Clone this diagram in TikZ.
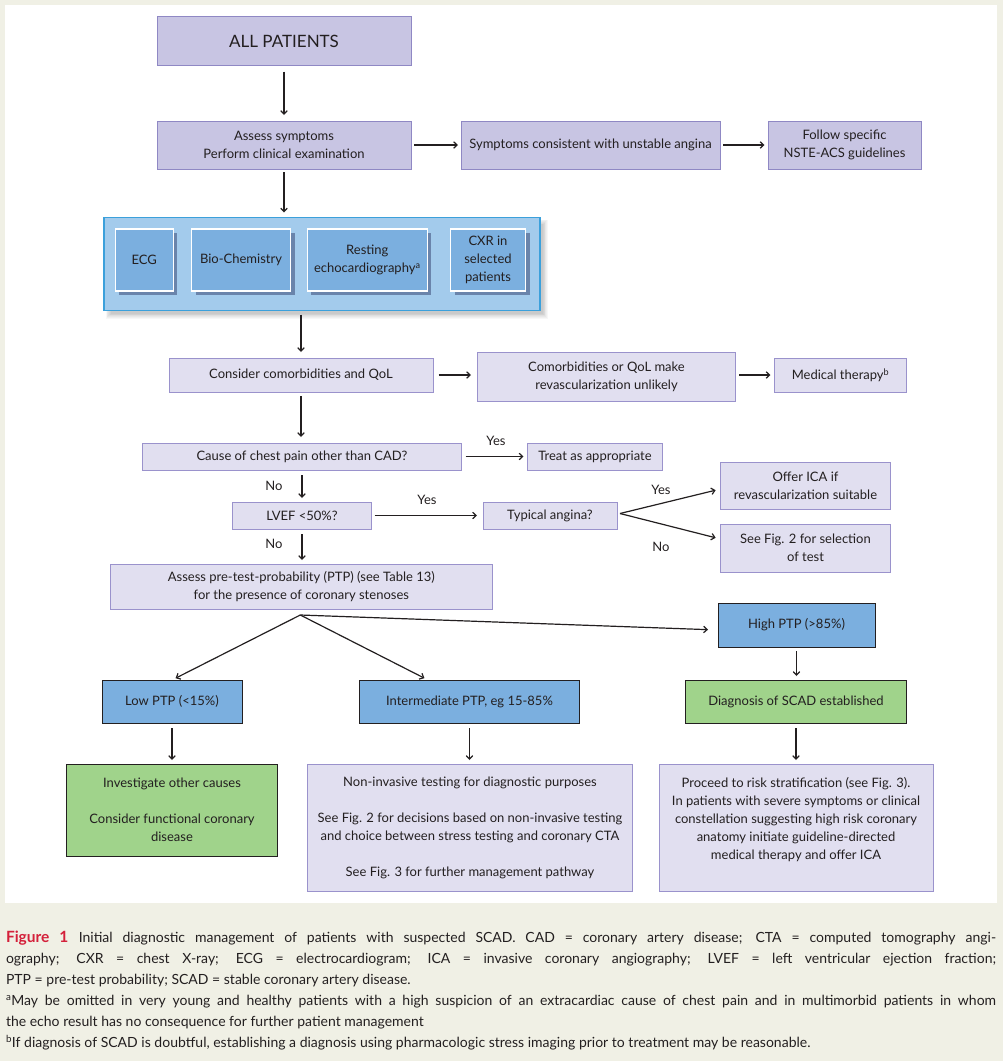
\documentclass[tikz,border=0pt]{standalone}
\usepackage{fontspec}
\setmainfont{Lato}
\usetikzlibrary{arrows.meta,shadows,calc}
\definecolor{bgcream}{HTML}{F0F0E5}
\definecolor{lavA}{HTML}{C8C5E3}
\definecolor{lavAd}{HTML}{8F88C4}
\definecolor{lavB}{HTML}{E1DFF0}
\definecolor{lavBd}{HTML}{9A92CC}
\definecolor{outerfill}{HTML}{A3CBEC}
\definecolor{outerdraw}{HTML}{3BA0DB}
\definecolor{bluefill}{HTML}{7BAFDF}
\definecolor{greenfill}{HTML}{A0D38B}
\definecolor{figred}{HTML}{D4203A}
\definecolor{txt}{HTML}{231F20}
\newcommand{\capline}[1]{\hbox to 990pt{#1}}
\newcommand{\capend}[1]{\hbox to 990pt{#1\hfil}}
\newcommand{\capspacing}{\spaceskip=3.6pt plus 40pt minus 1.2pt\relax}
\begin{document}
\begin{tikzpicture}[x=1pt,y=-1pt,
  every node/.style={text=txt, inner sep=0pt, outer sep=0pt, align=center,
    font=\fontsize{13}{18}\selectfont},
  lavtop/.style={draw=lavAd, fill=lavA, line width=0.8pt},
  lavbox/.style={draw=lavBd, fill=lavB, line width=0.8pt},
  outerbox/.style={draw=outerdraw, fill=outerfill, line width=1.6pt},
  innerbox/.style={draw=white, fill=bluefill, line width=1.2pt,
    drop shadow={shadow xshift=4pt, shadow yshift=-4pt, fill=black!80!blue, opacity=0.35}},
  bluebox/.style={draw=txt, fill=bluefill, line width=0.9pt},
  greenbox/.style={draw=txt, fill=greenfill, line width=0.9pt},
  lbl/.style={font=\fontsize{13}{16}\selectfont},
  arr/.style={draw=txt, line width=1.2pt, -{Straight Barb[length=3.5pt,width=6.5pt]}}
]
\useasboundingbox (0,0) rectangle (1003,1061);
\fill[bgcream] (0,0) rectangle (1003,1061);
\fill[white] (5,5) rectangle (997,903);

% top rows
\node[lavtop, minimum width=254pt, minimum height=49pt] (all) at (284,41)
  {\fontsize{17}{20}\selectfont ALL PATIENTS};
\node[lavtop, minimum width=254pt, minimum height=48pt] (assess) at (284,145)
  {Assess symptoms\\Perform clinical examination};
\node[lavtop, minimum width=259pt, minimum height=48pt] (sympt) at (590.5,145)
  {Symptoms consistent with unstable angina};
\node[lavtop, minimum width=153pt, minimum height=48pt] (follow) at (844.5,145)
  {Follow specific\\NSTE-ACS guidelines};

% soft shadow of the blue group
\foreach \k in {0,...,6}{
  \fill[black, opacity=0.03] (103.8+5-3+\k*0.8, 217.5+5-3+\k*0.8) rectangle (539.8+5+3-\k*0.8, 310.5+5+3-\k*0.8);
}
% blue group
\node[outerbox, minimum width=436pt, minimum height=93pt] (outer) at (321.8,264) {};
\node[innerbox, minimum width=58pt, minimum height=62pt] (ecg) at (144.3,260) {ECG};
\node[innerbox, minimum width=99pt, minimum height=62pt] (bio) at (241,260) {Bio-Chemistry};
\node[innerbox, minimum width=120pt, minimum height=62pt] (echo) at (367.3,260)
  {Resting\\echocardiography\textsuperscript{a}};
\node[innerbox, minimum width=75pt, minimum height=62pt] (cxr) at (488,260)
  {CXR in\\selected\\patients};

% comorbidities row
\node[lavbox, minimum width=264pt, minimum height=34pt] (cons) at (301,375)
  {Consider comorbidities and QoL};
\node[lavbox, minimum width=258pt, minimum height=49pt] (comorb) at (606.5,377)
  {Comorbidities or QoL make\\revascularization unlikely};
\node[lavbox, minimum width=132pt, minimum height=34pt] (med) at (840.5,375)
  {Medical therapy\textsuperscript{b}};

% cause row
\node[lavbox, minimum width=319pt, minimum height=27pt] (cause) at (302,456.5)
  {Cause of chest pain other than CAD?};
\node[lavbox, minimum width=135pt, minimum height=27pt] (treat) at (595,456.5)
  {Treat as appropriate};

% lvef row
\node[lavbox, minimum width=139pt, minimum height=27pt] (lvef) at (302,515.5) {LVEF <50\%?};
\node[lavbox, minimum width=134pt, minimum height=27pt] (typ) at (550,515.5) {Typical angina?};
\node[lavbox, minimum width=170pt, minimum height=47pt] (offer) at (805.5,485.5)
  {Offer ICA if\\revascularization suitable};
\node[lavbox, minimum width=170pt, minimum height=48pt] (seefig) at (805.5,548)
  {See Fig. 2 for selection\\of test};

% PTP
\node[lavbox, minimum width=382pt, minimum height=45pt] (ptp) at (301.3,586.5)
  {Assess pre-test-probability (PTP) (see Table 13)\\for the presence of coronary stenoses};

\node[bluebox, minimum width=157pt, minimum height=44pt] (high) at (796.5,625) {High PTP (>85\%)};
\node[bluebox, minimum width=140pt, minimum height=43pt] (low) at (172,701.5) {Low PTP (<15\%)};
\node[bluebox, minimum width=220pt, minimum height=43pt] (inter) at (469.5,701.5) {Intermediate PTP, eg 15-85\%};
\node[greenbox, minimum width=221pt, minimum height=43pt] (diag) at (796,701.5) {Diagnosis of SCAD established};

\node[greenbox, minimum width=211pt, minimum height=92pt] (inv) at (172,810)
  {Investigate other causes\\~\\Consider functional coronary\\disease};
\node[lavbox, minimum width=325pt, minimum height=127pt] (noninv) at (470,827.5)
  {Non-invasive testing for diagnostic purposes\\~\\See Fig. 2 for decisions based on non-invasive testing\\and choice between stress testing and coronary CTA\\~\\See Fig. 3 for further management pathway};
\node[lavbox, minimum width=274pt, minimum height=127pt] (proceed) at (796,827.5)
  {Proceed to risk stratification (see Fig. 3).\\In patients with severe symptoms or clinical\\constellation suggesting high risk coronary\\anatomy initiate guideline-directed\\medical therapy and offer ICA\\~};

% labels
\node[lbl] (yes1) at (496,441) {Yes};
\node[lbl] (no1) at (274,486) {No};
\node[lbl] (yes2) at (427,500) {Yes};
\node[lbl] (yes3) at (661,490) {Yes};
\node[lbl] (no3) at (661,547) {No};
\node[lbl] (no2) at (274,544) {No};

% arrows
\draw[arr, shorten <=6pt, shorten >=6pt] (all.south) -- (assess.north);
\draw[arr, shorten <=3pt, shorten >=5pt] (assess.south) -- (assess.south |- outer.north);
\draw[arr, shorten <=3pt, shorten >=3pt] (assess.east) -- (sympt.west);
\draw[arr, shorten <=3pt, shorten >=3.5pt] (sympt.east) -- (follow.west);
\draw[arr, shorten <=4pt, shorten >=6pt] (cons.north |- outer.south) -- (cons.north);
\draw[arr, shorten <=5.5pt, shorten >=6.5pt] (cons.east) -- (cons.east -| comorb.west);
\draw[arr, shorten <=3.5pt, shorten >=4pt] (med.west -| comorb.east) -- (med.west);
\draw[arr, shorten <=4pt, shorten >=6pt] (cons.south) -- (cons.south |- cause.north);
\draw[arr, shorten <=4pt, shorten >=4pt] (cause.east) -- (treat.west);
\draw[arr, shorten <=5pt, shorten >=4pt] (cause.south) -- (lvef.north);
\draw[arr, shorten <=3pt, shorten >=6pt] (lvef.east) -- (typ.west);
\coordinate (tapex) at ([xshift=3pt,yshift=2pt]typ.east);
\draw[arr, shorten >=5pt] (tapex) -- ([yshift=-3.5pt]offer.west);
\draw[arr, shorten >=5pt] (tapex) -- ([yshift=9pt]seefig.west);
\draw[arr, shorten <=5pt, shorten >=4pt] (lvef.south) -- (lvef.south |- ptp.north);
\coordinate (apex) at ([xshift=-1pt,yshift=-6pt]ptp.south);
\draw[arr, shorten >=4pt] (apex) -- (low.north);
\draw[arr, shorten >=4pt] (apex) -- ([xshift=-41.5pt]inter.north);
\draw[arr, shorten >=10pt] (apex) -- ([yshift=-5pt]high.west);
\draw[arr, shorten <=4pt, shorten >=4pt] (high.south) -- (high.south |- diag.north);
\draw[arr, shorten <=5pt, shorten >=4pt] (low.south) -- (low.south |- inv.north);
\draw[arr, shorten <=5pt, shorten >=4pt] (inter.south) -- (inter.south |- noninv.north);
\draw[arr, shorten <=5pt, shorten >=4pt] (diag.south) -- (diag.south |- proceed.north);

% caption
\node[anchor=north west, text width=990pt, align=left,
  font=\fontsize{14}{21}\selectfont] (cap) at (6,931)
{\capspacing
\capline{{\color{figred}\fontsize{15.5}{21}\selectfont\bfseries Figure 1}\hskip 0.7em plus 0.3em\relax Initial diagnostic management of patients with suspected SCAD. CAD = coronary artery disease; CTA = computed tomography angi-}
\capline{ography; CXR = chest X-ray; ECG = electrocardiogram; ICA = invasive coronary angiography; LVEF = left ventricular ejection fraction;}
\capend{PTP = pre-test probability; SCAD = stable coronary artery disease.}
\capline{\textsuperscript{a}May be omitted in very young and healthy patients with a high suspicion of an extracardiac cause of chest pain and in multimorbid patients in whom}
\capend{the echo result has no consequence for further patient management}
\capend{\textsuperscript{b}If diagnosis of SCAD is doubtful, establishing a diagnosis using pharmacologic stress imaging prior to treatment may be reasonable.}};
\end{tikzpicture}
\end{document}
